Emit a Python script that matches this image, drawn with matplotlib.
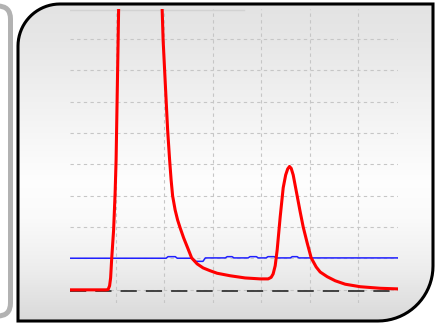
import numpy as np
import matplotlib
matplotlib.use("Agg")
import matplotlib.pyplot as plt
from matplotlib.path import Path
from matplotlib.patches import PathPatch, FancyBboxPatch

# detector trace, x and y in grid units (off-scale peak near x=1.5)
red_x = [0.06, 0.804, 0.845, 0.876, 0.897, 0.918, 0.959, 0.990, 1.010, 1.031, 1.052,
         1.062, 1.09, 1.50, 1.92, 1.959, 1.979, 2.010, 2.041, 2.072, 2.113, 2.144,
         2.175, 2.227, 2.278, 2.330, 2.402, 2.485, 2.567, 2.680, 2.804, 2.948, 3.093,
         3.361, 3.670, 3.979, 4.144, 4.206, 4.247, 4.289, 4.330, 4.392, 4.454, 4.505,
         4.546, 4.584, 4.619, 4.660, 4.742, 4.804, 4.866, 4.948, 5.031, 5.134, 5.216,
         5.361, 5.526, 5.732, 6.041, 6.454, 6.82]
red_y = [-0.01, -0.01, 0.0, 0.12, 0.37, 0.95, 1.91, 3.09, 4.14, 6.05, 7.97,
         8.96, 10.5, 12.0, 10.5, 8.96, 7.97, 7.01, 6.05, 5.10, 4.14, 3.50,
         2.99, 2.54, 2.22, 1.97, 1.65, 1.33, 1.01, 0.82, 0.69, 0.60, 0.52,
         0.44, 0.37, 0.34, 0.34, 0.39, 0.50, 0.76, 1.27, 2.32, 3.25, 3.66,
         3.85, 3.93, 3.87, 3.66, 2.99, 2.48, 2.00, 1.49, 1.01, 0.72, 0.56,
         0.41, 0.28, 0.17, 0.09, 0.04, 0.02]

# reference channel
blue_x = [0.06, 2.04, 2.08, 2.23, 2.27, 2.58, 2.66, 2.80, 2.85, 3.26, 3.30, 3.40,
          3.44, 3.73, 3.77, 3.90, 3.94, 4.10, 4.14, 4.27, 4.31, 4.60, 4.64, 4.74,
          4.78, 6.82]
blue_y = [1.0, 1.0, 1.05, 1.05, 1.0, 1.0, 0.9, 0.9, 1.01, 1.01, 1.05, 1.05,
          1.01, 1.01, 1.05, 1.05, 1.01, 1.01, 1.05, 1.05, 1.01, 1.01, 1.05, 1.05,
          1.01, 1.01]

baseline = -0.04
x_grid = [1, 2, 3, 4, 5, 6]
y_grid = [0, 1, 2, 3, 4, 5, 6, 7, 8]
x_lim = (0.06, 6.82)
y_lim = (-0.43, 8.96)


def panel_path(x0, y0, x1, y1, r_tl, r_br):
    # box with rounded top-left and bottom-right corners (y grows downward)
    t1 = np.linspace(np.pi, 1.5 * np.pi, 20)
    t2 = np.linspace(0, 0.5 * np.pi, 20)
    pts = [(x0 + r_tl, y0), (x1, y0), (x1, y1 - r_br)]
    pts += list(zip(x1 - r_br + r_br * np.cos(t2), y1 - r_br + r_br * np.sin(t2)))
    pts += [(x0, y1), (x0, y0 + r_tl)]
    pts += list(zip(x0 + r_tl + r_tl * np.cos(t1), y0 + r_tl + r_tl * np.sin(t1)))
    pts.append(pts[0])
    return Path(pts, closed=True)


fig = plt.figure(figsize=(4.38, 3.25), dpi=100)
bg = fig.add_axes([0, 0, 1, 1])
bg.set_xlim(0, 438)
bg.set_ylim(325, 0)
bg.axis("off")

# neighbouring panel peeking in on the left
left = FancyBboxPatch((-40, 6), 50.5, 310, boxstyle="round,pad=0,rounding_size=13",
                      facecolor="white", edgecolor="#b2b2b2", lw=3.6)
bg.add_patch(left)

# main panel with vertical gradient
path = panel_path(18, 4, 433, 321, 42, 55)
frame = PathPatch(path, facecolor="none", edgecolor="black", lw=2.2, zorder=3)
bg.add_patch(frame)
gy = np.linspace(4, 321, 300)
lev = np.interp(gy, [4, 40, 110, 180, 220, 270, 321],
                [0.89, 0.905, 0.95, 0.995, 0.98, 0.93, 0.85])
img = np.repeat(lev[:, None, None], 3, axis=2)
im = bg.imshow(img, extent=[18, 433, 321, 4], aspect="auto", zorder=1)
im.set_clip_path(PathPatch(path, transform=bg.transData))

ax = fig.add_axes([70 / 438, (325 - 303) / 325, 328 / 438, 294 / 325])
ax.patch.set_visible(False)
for s in ax.spines.values():
    s.set_visible(False)
ax.set_xlim(*x_lim)
ax.set_ylim(*y_lim)
ax.set_xticks(x_grid)
ax.set_yticks(y_grid)
ax.tick_params(length=0, labelbottom=False, labelleft=False)
ax.grid(color="#c6c6c6", linestyle=(0, (3, 3)), lw=0.8)
ax.set_axisbelow(True)

ax.axhline(y_lim[1] - 0.03, xmin=0, xmax=0.53, color="#d2d2d2", lw=1)
ax.axhline(baseline, color="#353535", lw=1.3, linestyle=(0, (9, 5)))
ax.plot(blue_x, blue_y, color="#1f1fff", lw=1.1)
ax.plot(red_x, red_y, color="#ff0000", lw=2.2, solid_joinstyle="round")

fig.savefig("out.png", dpi=100)
